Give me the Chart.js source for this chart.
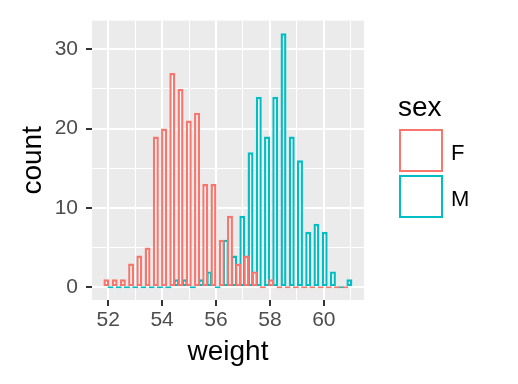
<!DOCTYPE html>
<html>
<head>
<meta charset="utf-8">
<script src="https://cdn.jsdelivr.net/npm/chart.js@4.4.0/dist/chart.umd.min.js"></script>
<style>
  html, body { margin: 0; padding: 0; background: #fff; }
  canvas { display: block; }
</style>
</head>
<body>
<canvas id="chart" width="518" height="384"></canvas>
<script>
// histogram bins (30 bins), centres
var binCenters = [52.010, 52.316, 52.621, 52.927, 53.232, 53.538, 53.844, 54.149, 54.455, 54.760,
                  55.066, 55.372, 55.677, 55.983, 56.288, 56.594, 56.900, 57.205, 57.511, 57.816,
                  58.122, 58.428, 58.733, 59.039, 59.344, 59.650, 59.956, 60.261, 60.567, 60.872];
var countF = [1, 1, 1, 3, 4, 5, 19, 20, 27, 25, 21, 22, 13, 13, 6, 9, 3, 4, 2, 0, 1, 0, 0, 0, 0, 0, 0, 0, 0, 0];
var countM = [0, 0, 0, 0, 0, 0, 0, 0, 1, 1, 0, 1, 2, 0, 6, 4, 9, 17, 24, 19, 24, 32, 19, 16, 7, 8, 7, 2, 0, 1];
var groups = ['F', 'M'];
var colors = ['#F8766D', '#00BFC4'];
var xTicks = [52, 53, 54, 55, 56, 57, 58, 59, 60, 61];
var xLabels = [52, 54, 56, 58, 60];
var yTicks = [0, 5, 10, 15, 20, 25, 30];
var yLabels = [0, 10, 20, 30];

var FONT = '"Liberation Sans", Arial, sans-serif';

function toPoints(counts) {
    return counts.map(function(c, i) { return { x: binCenters[i], y: c }; });
}

// grey panel behind the grid
var panelPlugin = {
    id: 'panel',
    beforeDraw: function(chart) {
        var a = chart.chartArea, ctx = chart.ctx;
        ctx.save();
        ctx.fillStyle = '#EBEBEB';
        ctx.fillRect(a.left, a.top, a.right - a.left, a.bottom - a.top);
        ctx.restore();
    }
};

// ggplot style legend on the right
var legendPlugin = {
    id: 'ggLegend',
    afterDraw: function(chart) {
        var ctx = chart.ctx;
        ctx.save();
        ctx.fillStyle = '#000';
        ctx.font = '28px ' + FONT;
        ctx.textBaseline = 'alphabetic';
        ctx.textAlign = 'left';
        ctx.fillText('sex', 398, 116);
        groups.forEach(function(g, i) {
            var y = 130 + i * 46;
            ctx.fillStyle = '#fff';
            ctx.fillRect(400, y, 42, 41);
            ctx.strokeStyle = colors[i];
            ctx.lineWidth = 2;
            ctx.strokeRect(400, y, 42, 41);
            ctx.fillStyle = '#000';
            ctx.font = '22px ' + FONT;
            ctx.fillText(g, 451, y + 30);
        });
        ctx.restore();
    }
};

var datasets = groups.map(function(g, i) {
    return {
        label: g,
        data: toPoints(i === 0 ? countF : countM),
        backgroundColor: '#ffffff',
        borderColor: colors[i],
        borderWidth: 2.4,
        borderSkipped: false,
        minBarLength: 2,
        categoryPercentage: 1,
        barPercentage: 1.45
    };
});

new Chart(document.getElementById('chart').getContext('2d'), {
    type: 'bar',
    data: { datasets: datasets },
    options: {
        responsive: false,
        devicePixelRatio: 1,
        animation: false,
        layout: { padding: { top: 14, right: 154, left: 0, bottom: 0 } },
        plugins: { legend: { display: false }, tooltip: { enabled: false } },
        scales: {
            x: {
                type: 'linear',
                min: 51.40,
                max: 61.49,
                offset: false,
                afterFit: function(s) { s.height = 84; },
                afterBuildTicks: function(s) { s.ticks = xTicks.map(function(v) { return { value: v }; }); },
                border: { display: false },
                grid: {
                    offset: false,
                    color: '#ffffff',
                    lineWidth: function(c) { return xLabels.indexOf(c.tick.value) >= 0 ? 2 : 1; },
                    tickColor: function(c) { return xLabels.indexOf(c.tick.value) >= 0 ? '#333333' : 'rgba(0,0,0,0)'; },
                    tickWidth: 2,
                    tickLength: 6
                },
                ticks: {
                    autoSkip: false,
                    maxRotation: 0,
                    padding: 2,
                    color: '#4D4D4D',
                    font: { family: FONT, size: 21 },
                    callback: function(v) { return xLabels.indexOf(v) >= 0 ? String(v) : ''; }
                },
                title: {
                    display: true,
                    text: 'weight',
                    color: '#000',
                    font: { family: FONT, size: 28 },
                    padding: { top: 0, bottom: 15 }
                }
            },
            y: {
                min: -1.6,
                max: 33.6,
                afterFit: function(s) { s.width = 92; },
                afterBuildTicks: function(s) { s.ticks = yTicks.map(function(v) { return { value: v }; }); },
                border: { display: false },
                grid: {
                    color: '#ffffff',
                    lineWidth: function(c) { return yLabels.indexOf(c.tick.value) >= 0 ? 2 : 1; },
                    tickColor: function(c) { return yLabels.indexOf(c.tick.value) >= 0 ? '#333333' : 'rgba(0,0,0,0)'; },
                    tickWidth: 2,
                    tickLength: 6
                },
                ticks: {
                    padding: 8,
                    color: '#4D4D4D',
                    font: { family: FONT, size: 21 },
                    callback: function(v) { return yLabels.indexOf(v) >= 0 ? String(v) : ''; }
                },
                title: {
                    display: true,
                    text: 'count',
                    color: '#000',
                    font: { family: FONT, size: 28 },
                    padding: { top: 16, bottom: 0 }
                }
            }
        }
    },
    plugins: [panelPlugin, legendPlugin]
});
</script>
</body>
</html>
